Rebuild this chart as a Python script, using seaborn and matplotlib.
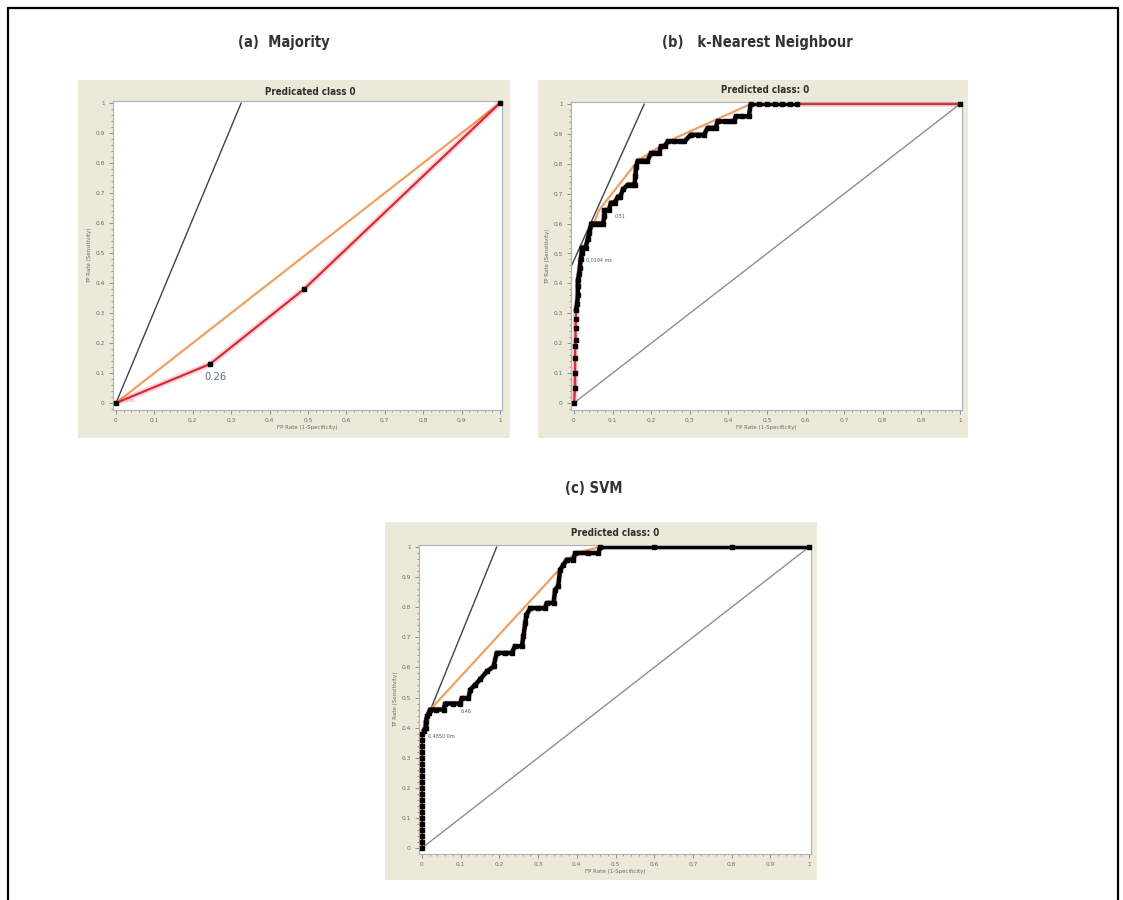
import matplotlib
matplotlib.use("Agg")
import matplotlib.pyplot as plt
from matplotlib.ticker import MultipleLocator, FixedLocator, FixedFormatter
from matplotlib.lines import Line2D
from matplotlib.patches import Rectangle
import pandas as pd
import seaborn as sns

# ---------------- data ----------------
panel_titles = ["(a)  Majority", "(b)   k-Nearest Neighbour", "(c) SVM"]
plot_titles = ["Predicated class 0", "Predicted class: 0", "Predicted class: 0"]
x_label = "FP Rate (1-Specificity)"
y_label = "TP Rate (Sensitivity)"
tick_values = [0, 0.1, 0.2, 0.3, 0.4, 0.5, 0.6, 0.7, 0.8, 0.9, 1]
tick_labels = ["0", "0.1", "0.2", "0.3", "0.4", "0.5", "0.6", "0.7", "0.8", "0.9", "1"]

# (a) Majority
maj_roc_fpr = [0.0, 0.245, 0.49, 1.0]
maj_roc_tpr = [0.0, 0.13, 0.38, 1.0]
maj_hull_fpr = [0.0, 1.0]
maj_hull_tpr = [0.0, 1.0]
maj_iso_fpr = [0.0, 0.326]
maj_iso_tpr = [0.0, 1.0]

# (b) k-Nearest Neighbour
knn_roc_fpr = [0.0, 0.003, 0.003, 0.003, 0.003, 0.004, 0.004, 0.005, 0.005, 0.008,
               0.01, 0.01, 0.01, 0.013, 0.015, 0.017, 0.02, 0.02, 0.03, 0.036,
               0.04, 0.045, 0.055, 0.065, 0.075, 0.079, 0.079, 0.09, 0.096, 0.105,
               0.114, 0.12, 0.127, 0.14, 0.15, 0.157, 0.159, 0.161, 0.165, 0.178,
               0.19, 0.2, 0.21, 0.221, 0.225, 0.235, 0.243, 0.26, 0.275, 0.286,
               0.303, 0.32, 0.337, 0.346, 0.357, 0.367, 0.372, 0.39, 0.405, 0.415,
               0.419, 0.435, 0.453, 0.458, 0.48, 0.5, 0.52, 0.54, 0.56, 0.578, 1.0]
knn_roc_tpr = [0.0, 0.05, 0.1, 0.15, 0.19, 0.21, 0.25, 0.28, 0.31, 0.33,
               0.36, 0.39, 0.41, 0.43, 0.45, 0.48, 0.5, 0.52, 0.52, 0.55,
               0.57, 0.6, 0.6, 0.6, 0.6, 0.625, 0.645, 0.645, 0.67, 0.67,
               0.69, 0.69, 0.715, 0.73, 0.73, 0.73, 0.76, 0.79, 0.81, 0.81,
               0.81, 0.836, 0.836, 0.836, 0.858, 0.858, 0.875, 0.875, 0.875, 0.875,
               0.897, 0.897, 0.897, 0.92, 0.92, 0.92, 0.942, 0.942, 0.942, 0.942,
               0.959, 0.959, 0.959, 1.0, 1.0, 1.0, 1.0, 1.0, 1.0, 1.0, 1.0]
knn_hull_fpr = [0.0, 0.005, 0.02, 0.065, 0.165, 0.243, 0.458, 1.0]
knn_hull_tpr = [0.0, 0.31, 0.5, 0.645, 0.81, 0.875, 1.0, 1.0]
knn_iso_fpr = [-0.011, 0.182]
knn_iso_tpr = [0.446, 1.0]

# (c) SVM
svm_roc_fpr = [0.0, 0.0, 0.0, 0.0, 0.0, 0.0, 0.0, 0.0, 0.0, 0.0,
               0.0, 0.0, 0.0, 0.0, 0.0, 0.0, 0.0, 0.0, 0.0, 0.0,
               0.005, 0.01, 0.01, 0.013, 0.018, 0.0215, 0.035, 0.056, 0.06, 0.08,
               0.099, 0.103, 0.12, 0.125, 0.138, 0.15, 0.168, 0.185, 0.193, 0.215,
               0.232, 0.24, 0.258, 0.262, 0.267, 0.27, 0.28, 0.30, 0.318, 0.322,
               0.34, 0.344, 0.352, 0.357, 0.365, 0.374, 0.391, 0.396, 0.43, 0.456,
               0.46, 0.6, 0.8, 1.0]
svm_roc_tpr = [0.0, 0.02, 0.04, 0.06, 0.08, 0.1, 0.12, 0.14, 0.16, 0.18,
               0.2, 0.22, 0.24, 0.26, 0.28, 0.3, 0.32, 0.34, 0.36, 0.38,
               0.39, 0.40, 0.42, 0.437, 0.45, 0.46, 0.46, 0.46, 0.48, 0.48,
               0.48, 0.498, 0.498, 0.526, 0.543, 0.56, 0.587, 0.603, 0.648, 0.648,
               0.648, 0.67, 0.67, 0.703, 0.748, 0.775, 0.797, 0.797, 0.797, 0.814,
               0.814, 0.858, 0.87, 0.925, 0.94, 0.958, 0.958, 0.98, 0.98, 0.98,
               1.0, 1.0, 1.0, 1.0]
svm_hull_fpr = [0.0, 0.0, 0.0215, 0.365, 0.396, 0.46, 1.0]
svm_hull_tpr = [0.0, 0.38, 0.46, 0.94, 0.98, 1.0, 1.0]
svm_iso_fpr = [0.0, 0.193]
svm_iso_tpr = [0.39, 1.0]

# threshold annotations
maj_notes = [(0.26, 0.085, "0.26"), (0.02, 0.005, "0.000")]
knn_notes = [(0.03, 0.475, "0.0194 ms"), (0.105, 0.625, "0.51")]
svm_notes = [(0.015, 0.37, "0.4850 0m"), (0.1, 0.455, "0.46")]

# ---------------- layout (pixels) ----------------
W, H = 1123, 900
BEIGE = "#ece9d8"
RED = "#d92a3a"
ORANGE = "#f0a060"
ISO = "#3c4250"
DIAG = "#8e8e8e"

sns.set_theme(style="white")
plt.rcParams["font.family"] = ["DejaVu Sans"]

fig = plt.figure(figsize=(W / 100, H / 100), dpi=100)
fig.patch.set_facecolor("white")


def frac_box(x0, y0, x1, y1):
    return [x0 / W, 1 - y1 / H, (x1 - x0) / W, (y1 - y0) / H]


panels = [
    dict(bg=(78, 80, 510, 438), box=(113, 101, 502, 410), x0=116, x1=500, y0=403, y1=103,
         title_xy=(284, 43), sub_xy=(310, 92),
         roc=(maj_roc_fpr, maj_roc_tpr), hull=(maj_hull_fpr, maj_hull_tpr),
         iso=(maj_iso_fpr, maj_iso_tpr), diag=False, thick_tail=False, notes=maj_notes),
    dict(bg=(538, 80, 968, 438), box=(571, 102, 962, 410), x0=574, x1=960, y0=403, y1=104,
         title_xy=(757, 43), sub_xy=(765, 90),
         roc=(knn_roc_fpr, knn_roc_tpr), hull=(knn_hull_fpr, knn_hull_tpr),
         iso=(knn_iso_fpr, knn_iso_tpr), diag=True, thick_tail=False, notes=knn_notes),
    dict(bg=(385, 522, 817, 880), box=(419, 545, 811, 854), x0=422, x1=809, y0=848, y1=547,
         title_xy=(594, 488), sub_xy=(615, 533),
         roc=(svm_roc_fpr, svm_roc_tpr), hull=(svm_hull_fpr, svm_hull_tpr),
         iso=(svm_iso_fpr, svm_iso_tpr), diag=True, thick_tail=True, notes=svm_notes),
]

for i, p in enumerate(panels):
    # beige panel background
    bx0, by0, bx1, by1 = p["bg"]
    fig.add_artist(Rectangle((bx0 / W, 1 - by1 / H), (bx1 - bx0) / W, (by1 - by0) / H,
                             transform=fig.transFigure, facecolor=BEIGE, edgecolor="none",
                             zorder=0))
    ax0, ay0, ax1, ay1 = p["box"]
    ax = fig.add_axes(frac_box(ax0, ay0, ax1, ay1))
    ax.set_facecolor("white")
    sx = p["x1"] - p["x0"]
    sy = p["y0"] - p["y1"]
    ax.set_xlim((ax0 - p["x0"]) / sx, 1 + (ax1 - p["x1"]) / sx)
    ax.set_ylim((p["y0"] - ay1) / sy, 1 + (p["y1"] - ay0) / sy)

    # reference lines
    if p["diag"]:
        sns.lineplot(x=[0, 1], y=[0, 1], ax=ax, color=DIAG, lw=1.0, sort=False,
                     estimator=None, legend=False)
    sns.lineplot(x=p["iso"][0], y=p["iso"][1], ax=ax, color=ISO, lw=1.0, sort=False,
                 estimator=None, legend=False)
    sns.lineplot(x=p["hull"][0], y=p["hull"][1], ax=ax, color=ORANGE, lw=1.6, sort=False,
                 estimator=None, legend=False)

    fpr, tpr = p["roc"]
    df = pd.DataFrame({"fpr": fpr, "tpr": tpr})
    # red ROC with light halo
    ax.plot(df.fpr, df.tpr, color=RED, lw=4.5, alpha=0.18, solid_capstyle="round")
    sns.lineplot(data=df, x="fpr", y="tpr", ax=ax, color=RED, lw=1.6, sort=False,
                 estimator=None, legend=False)
    if i > 0:
        # thick black staircase where the curve leaves the y axis
        start = next(k for k, v in enumerate(fpr) if v > 0.006) - 1
        end = len(fpr) if p["thick_tail"] else len(fpr) - 1
        stairs = df.iloc[start:end]
        sns.lineplot(data=stairs, x="fpr", y="tpr", ax=ax, color="black", lw=3.2,
                     sort=False, estimator=None, legend=False)
    ax.plot(df.fpr, df.tpr, ls="none", marker="s", ms=2.4, color="black", clip_on=False,
            zorder=5)

    for (nx, ny, txt) in p["notes"]:
        if i == 0 and txt == "0.26":
            ax.text(nx, ny, txt, fontsize=8, color="#5b6b7c", ha="center", va="center",
                    fontstretch="condensed")
        elif i == 0:
            ax.text(nx, ny, txt, fontsize=3, color="#e87a8a", ha="left", va="center")
        else:
            ax.text(nx, ny, txt, fontsize=3.5, color="#505a68", ha="left", va="center")

    # axes styling
    ax.xaxis.set_major_locator(FixedLocator(tick_values))
    ax.xaxis.set_major_formatter(FixedFormatter(tick_labels))
    ax.yaxis.set_major_locator(FixedLocator(tick_values))
    ax.yaxis.set_major_formatter(FixedFormatter(tick_labels))
    ax.xaxis.set_minor_locator(MultipleLocator(0.02))
    ax.yaxis.set_minor_locator(MultipleLocator(0.02))
    ax.tick_params(which="major", direction="out", length=3, width=0.6, color="#7a7f88",
                   labelsize=4.2, labelcolor="#6a6a6a", pad=3,
                   bottom=True, left=True, top=False, right=False)
    ax.tick_params(which="minor", direction="out", length=1.6, width=0.6, color="#8a8f98",
                   bottom=True, left=True, top=False, right=False)
    for s in ax.spines.values():
        s.set_color("#a9b0ba")
        s.set_linewidth(0.8)
    ax.set_xlabel(x_label, fontsize=4, color="#6a6a6a", labelpad=1.5)
    ax.set_ylabel(y_label, fontsize=4, color="#6a6a6a", labelpad=2)
    ax.grid(False)

    # titles
    fig.text(p["sub_xy"][0] / W, 1 - p["sub_xy"][1] / H, plot_titles[i], ha="center",
             va="center", fontsize=7, fontweight="bold", color="#2e2e2e",
             fontstretch="condensed")
    fig.text(p["title_xy"][0] / W, 1 - p["title_xy"][1] / H, panel_titles[i], ha="center",
             va="center", fontsize=10.5, fontweight="bold", color="#333333",
             fontstretch="condensed")

# outer frame (left, top, right)
for xs, ys in [([8, 8], [900, 8]), ([8, 1118], [8, 8]), ([1118, 1118], [8, 900])]:
    fig.add_artist(Line2D([x / W for x in xs], [1 - y / H for y in ys], color="black",
                          lw=1.6, transform=fig.transFigure))

fig.savefig("out.png", dpi=100, facecolor="white")
